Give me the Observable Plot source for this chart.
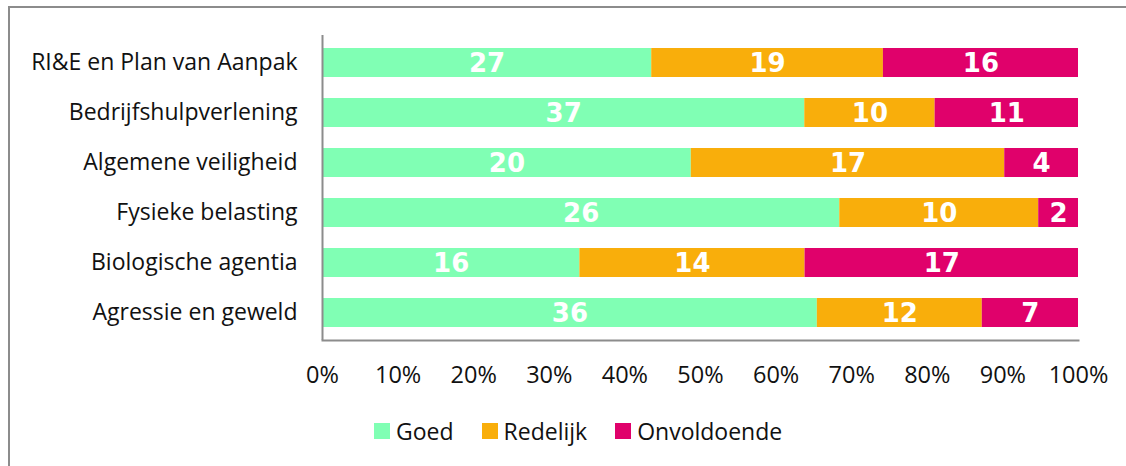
<!DOCTYPE html>
<html>
<head>
<meta charset="utf-8">
<script src="https://cdn.jsdelivr.net/npm/d3@7"></script>
<script src="https://cdn.jsdelivr.net/npm/@observablehq/plot@0.6"></script>
<style>
  html, body { margin: 0; padding: 0; background: #fff; }
  #wrap { position: relative; width: 1126px; height: 466px; overflow: hidden; }
  #frame { position: absolute; left: 8px; top: 6px; width: 1200px; height: 600px;
           border-left: 2px solid #8c8c8c; border-top: 2px solid #8c8c8c; }
  #chart { position: absolute; left: 0; top: 0; }
  #legend { position: absolute; top: 416px; left: 374px; height: 30px; display: flex; align-items: center;
            font-family: "Open Sans", sans-serif; font-size: 23px; color: #111; }
  .item { display: flex; align-items: center; margin-right: 28px; }
  .sw { width: 16px; height: 16px; margin-right: 6px; }
</style>
</head>
<body>
<div id="wrap">
  <div id="frame"></div>
  <div id="chart"></div>
  <div id="legend"></div>
</div>
<script>
const categories = ["RI&E en Plan van Aanpak", "Bedrijfshulpverlening", "Algemene veiligheid", "Fysieke belasting", "Biologische agentia", "Agressie en geweld"];
const seriesNames = ["Goed", "Redelijk", "Onvoldoende"];
const goed = [27, 37, 20, 26, 16, 36];
const redelijk = [19, 10, 17, 10, 14, 12];
const onvoldoende = [16, 11, 4, 2, 17, 7];
const colors = ["#80FFB4", "#F9AE0B", "#E0016B"];
const xTicks = [0, 0.1, 0.2, 0.3, 0.4, 0.5, 0.6, 0.7, 0.8, 0.9, 1];

const seriesValues = [goed, redelijk, onvoldoende];
const data = [];
categories.forEach((c, i) => {
  seriesNames.forEach((s, j) => data.push({cat: c, series: s, value: seriesValues[j][i]}));
});

const stackOpts = {x: "value", y: "cat", z: "series", offset: "normalize", order: seriesNames};

const chart = Plot.plot({
  width: 1126,
  height: 400,
  marginLeft: 322,
  marginRight: 48,
  marginTop: 35,
  marginBottom: 60,
  style: {fontFamily: "'Open Sans', sans-serif", fontSize: "23px", color: "#111", background: "transparent"},
  x: {domain: [0, 1], ticks: xTicks, tickFormat: d => Math.round(d * 100) + "%"},
  y: {domain: categories, paddingInner: 0.43, paddingOuter: 0.215},
  color: {domain: seriesNames, range: colors},
  marks: [
    Plot.barX(data, Plot.stackX({...stackOpts, fill: "series"})),
    Plot.text(data, Plot.stackX({...stackOpts, text: "value", fill: "white",
      fontFamily: "DejaVu Sans", fontWeight: "bold", fontSize: 26, dy: 1})),
    Plot.ruleX([0], {stroke: "#8c8c8c", strokeWidth: 2}),
    Plot.frame({anchor: "bottom", stroke: "#8c8c8c", strokeWidth: 2}),
    Plot.axisX({ticks: xTicks, tickFormat: d => Math.round(d * 100) + "%", tickSize: 0, tickPadding: 26, label: null, fontSize: 23.5}),
    Plot.axisY({tickSize: 0, tickPadding: 25, label: null, fontSize: 23})
  ]
});
document.getElementById("chart").appendChild(chart);

const legend = document.getElementById("legend");
seriesNames.forEach((s, i) => {
  const it = document.createElement("div");
  it.className = "item";
  it.innerHTML = `<span class="sw" style="background:${colors[i]}"></span><span>${s}</span>`;
  legend.appendChild(it);
});
</script>
</body>
</html>
